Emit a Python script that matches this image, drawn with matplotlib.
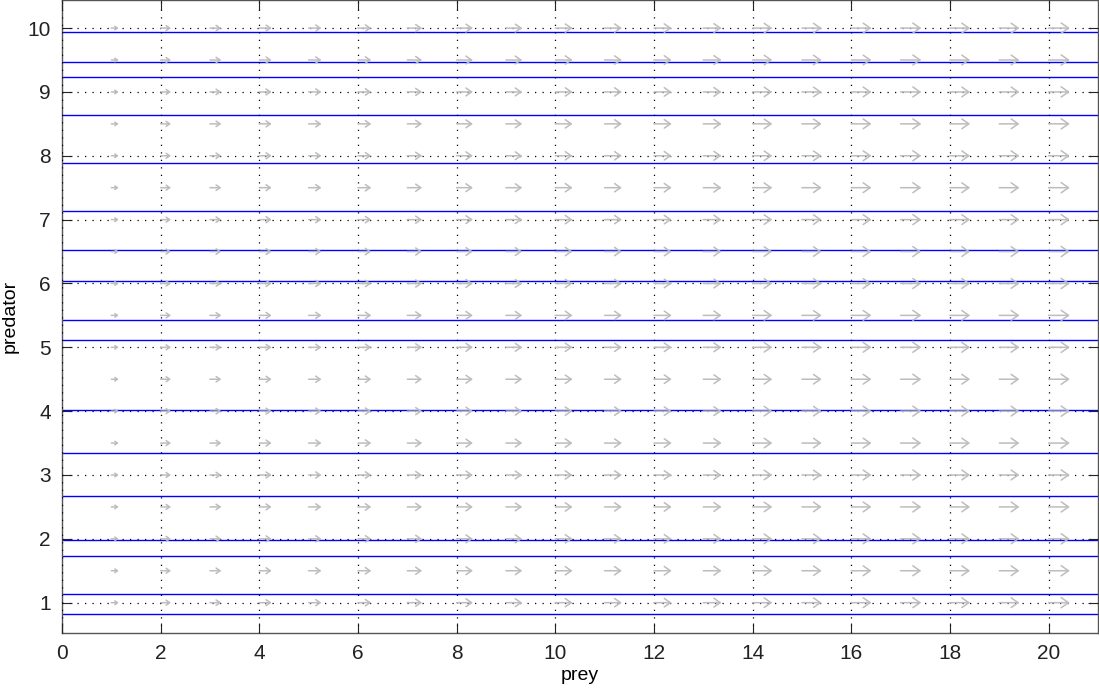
import numpy as np
import matplotlib
matplotlib.use("Agg")
import matplotlib.pyplot as plt

plt.rcParams['font.family'] = ['Liberation Sans', 'DejaVu Sans']

# trajectory levels (predator values of the blue lines)
line_levels = [9.94, 9.47, 9.24, 8.64, 7.89, 7.13, 6.52, 6.04, 5.42, 5.11,
               4.02, 3.35, 2.67, 1.98, 1.73, 1.14, 0.83]

# direction field grid
prey_grid = list(range(1, 21))
pred_grid = [1.0, 1.5, 2.0, 2.5, 3.0, 3.5, 4.0, 4.5, 5.0, 5.5,
             6.0, 6.5, 7.0, 7.5, 8.0, 8.5, 9.0, 9.5, 10.0]
# arrow length (in prey units) for each prey column
arrow_len = [0.15, 0.21, 0.23, 0.25, 0.26, 0.27, 0.30, 0.33, 0.33, 0.35,
             0.35, 0.36, 0.37, 0.40, 0.40, 0.41, 0.42, 0.41, 0.41, 0.43]

x_ticks = [0, 2, 4, 6, 8, 10, 12, 14, 16, 18, 20]
y_ticks = [1, 2, 3, 4, 5, 6, 7, 8, 9, 10]

fig = plt.figure(figsize=(10.99, 6.9), dpi=100)
ax = fig.add_axes([0.0564, 0.0826, 0.9426, 0.9174])

# grey arrows of the direction field, head size follows arrow length
max_len = max(arrow_len)
for x, dx in zip(prey_grid, arrow_len):
    ms = 10.5 * dx / max_len
    for y in pred_grid:
        ax.annotate("", xy=(x + dx, y), xytext=(x, y),
                    arrowprops=dict(arrowstyle="->,head_length=0.5,head_width=0.35",
                                    color="#bdbdbd", lw=1.1,
                                    mutation_scale=ms, shrinkA=0, shrinkB=0))

for lv in line_levels:
    ax.axhline(lv, color="#0000ff", lw=1.0)

ax.set_xlim(0, 21)
ax.set_ylim(0.525, 10.44)
ax.set_xticks(x_ticks)
ax.set_yticks(y_ticks)
ax.grid(True, color="black", linestyle=(0, (1, 5)), linewidth=0.9)
ax.set_axisbelow(False)

ax.tick_params(direction="in", length=7, width=0.8, top=True, right=True,
               labelsize=15, pad=8, colors="#222222")
for sp in ax.spines.values():
    sp.set_color("#555555")
    sp.set_linewidth(1.0)

ax.set_xlabel("prey", fontsize=14, labelpad=3)
ax.set_ylabel("predator", fontsize=14, labelpad=6)

fig.savefig("out.png", dpi=100)
